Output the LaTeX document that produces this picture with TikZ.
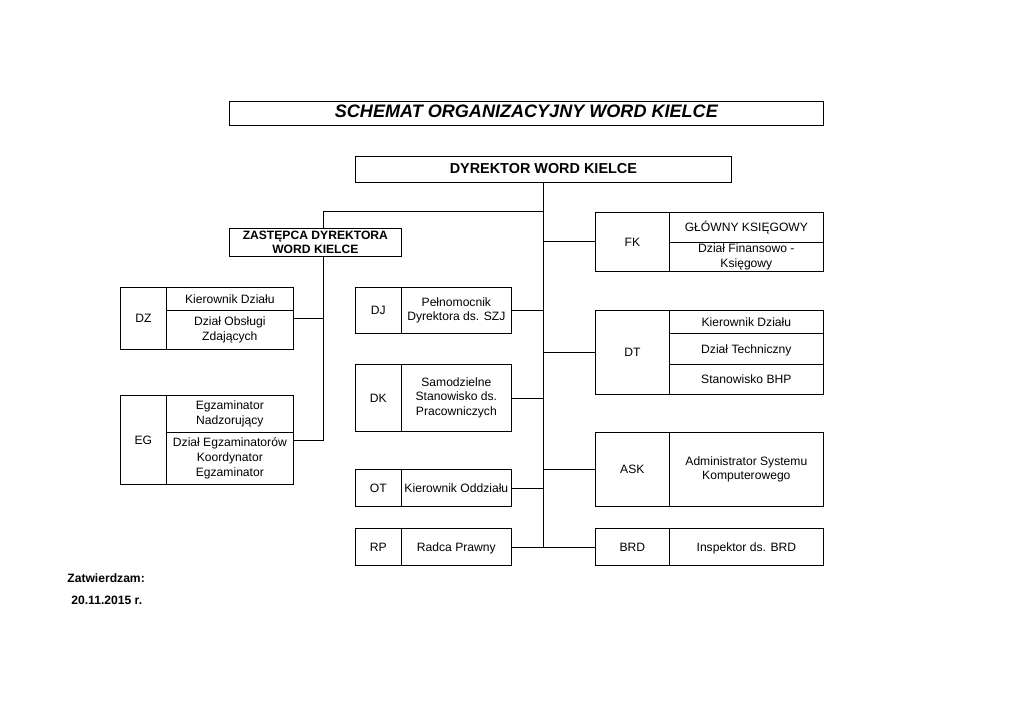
\documentclass[tikz,border=0pt]{standalone}
\usepackage{fontspec}
\setmainfont{Liberation Sans}
\usetikzlibrary{positioning,calc}
\newcommand{\px}{0.29mm}
\begin{document}
\begin{tikzpicture}[x=0.29mm,y=-0.29mm,line width=0.6pt,
  box/.style={draw,rectangle,inner sep=1pt,align=center,anchor=north west,font=\fontsize{10}{12.3}\selectfont},
  jed/.style={text height=0.8em,text depth=0.1em}]
\useasboundingbox (0,0) rectangle (1024,724);
% naglowek i dyrektor
\node[box,jed,minimum width=594*\px,minimum height=24*\px,font=\bfseries\itshape\fontsize{14.9}{16}\selectfont](q_tyt) at (229,101) {SCHEMAT ORGANIZACYJNY WORD KIELCE};
\node[box,jed,minimum width=376*\px,minimum height=26*\px,font=\bfseries\fontsize{11.9}{14}\selectfont](q_dyr) at (355,156) {DYREKTOR WORD KIELCE};
\node[box,minimum width=172*\px,minimum height=28*\px,font=\bfseries\fontsize{10}{12.3}\selectfont](q_zas) at (229,228) {ZASTĘPCA DYREKTORA\\WORD KIELCE};
% lewa kolumna
\node[box,jed,minimum width=46*\px,minimum height=62*\px](q_dz) at (120,287) {DZ};
\node[box,jed,minimum width=127*\px,minimum height=23*\px](q_dz1) at (166,287) {Kierownik Działu};
\node[box,minimum width=127*\px,minimum height=39*\px](q_dz2) at (166,310) {Dział Obsługi\\Zdających};
\node[box,jed,minimum width=46*\px,minimum height=89*\px](q_eg) at (120,395) {EG};
\node[box,minimum width=127*\px,minimum height=37*\px](q_eg1) at (166,395) {Egzaminator\\Nadzorujący};
\node[box,minimum width=127*\px,minimum height=52*\px](q_eg2) at (166,432) {Dział Egzaminatorów\\Koordynator\\Egzaminator};
% srodkowa kolumna
\node[box,jed,minimum width=46*\px,minimum height=46*\px](q_dj) at (355,287) {DJ};
\node[box,minimum width=110*\px,minimum height=46*\px](q_dj1) at (401,287) {Pełnomocnik\\Dyrektora ds. SZJ};
\node[box,jed,minimum width=46*\px,minimum height=67*\px](q_dk) at (355,364) {DK};
\node[box,minimum width=110*\px,minimum height=67*\px](q_dk1) at (401,364) {Samodzielne\\Stanowisko ds.\\Pracowniczych};
\node[box,jed,minimum width=46*\px,minimum height=37*\px](q_ot) at (355,469) {OT};
\node[box,jed,minimum width=110*\px,minimum height=37*\px,inner sep=0pt](q_ot1) at (401,469) {Kierownik Oddziału};
\node[box,jed,minimum width=46*\px,minimum height=37*\px](q_rp) at (355,528) {RP};
\node[box,jed,minimum width=110*\px,minimum height=37*\px](q_rp1) at (401,528) {Radca Prawny};
% prawa kolumna
\node[box,jed,minimum width=74*\px,minimum height=59*\px](q_fk) at (595,212) {FK};
\node[box,jed,minimum width=154*\px,minimum height=30*\px](q_fk1) at (669,212) {GŁÓWNY KSIĘGOWY};
\node[box,minimum width=154*\px,minimum height=29*\px](q_fk2) at (669,242) {Dział Finansowo -\\Księgowy};
\node[box,jed,minimum width=74*\px,minimum height=84*\px](q_dt) at (595,310) {DT};
\node[box,jed,minimum width=154*\px,minimum height=23*\px](q_dt1) at (669,310) {Kierownik Działu};
\node[box,jed,minimum width=154*\px,minimum height=31*\px](q_dt2) at (669,333) {Dział Techniczny};
\node[box,jed,minimum width=154*\px,minimum height=30*\px](q_dt3) at (669,364) {Stanowisko BHP};
\node[box,jed,minimum width=74*\px,minimum height=74*\px](q_ask) at (595,432) {ASK};
\node[box,minimum width=154*\px,minimum height=74*\px](q_ask1) at (669,432) {Administrator Systemu\\Komputerowego};
\node[box,jed,minimum width=74*\px,minimum height=37*\px](q_brd) at (595,528) {BRD};
\node[box,jed,minimum width=154*\px,minimum height=37*\px](q_brd1) at (669,528) {Inspektor ds. BRD};
% podpis
\node[anchor=west,inner sep=0pt,font=\bfseries\fontsize{10}{12}\selectfont](q_zat) at (67,578) {Zatwierdzam:};
\node[anchor=west,inner sep=0pt,font=\bfseries\fontsize{10}{12}\selectfont](q_dat) at (71,600) {20.11.2015 r.};
% polaczenia
\coordinate (q_z) at (323,211);
\draw (q_dyr.south) -- (q_dyr.south |- q_brd.west);
\draw (q_zas.north -| q_z) -- (q_z) -- (q_z -| q_dyr.south);
\draw (q_zas.south -| q_z) -- (q_z |- q_eg.east) -- (q_eg.east -| q_eg2.east);
\draw (q_dz.east -| q_dz2.east) -- (q_dz.east -| q_z);
\draw (q_dj1.east) -- (q_dj1.east -| q_dyr.south);
\draw (q_dk1.east) -- (q_dk1.east -| q_dyr.south);
\draw (q_ot1.east) -- (q_ot1.east -| q_dyr.south);
\draw (q_rp1.east) -- (q_rp1.east -| q_dyr.south);
\draw (q_fk.west) -- (q_fk.west -| q_dyr.south);
\draw (q_dt.west) -- (q_dt.west -| q_dyr.south);
\draw (q_ask.west) -- (q_ask.west -| q_dyr.south);
\draw (q_brd.west) -- (q_brd.west -| q_dyr.south);

\end{tikzpicture}
\end{document}
